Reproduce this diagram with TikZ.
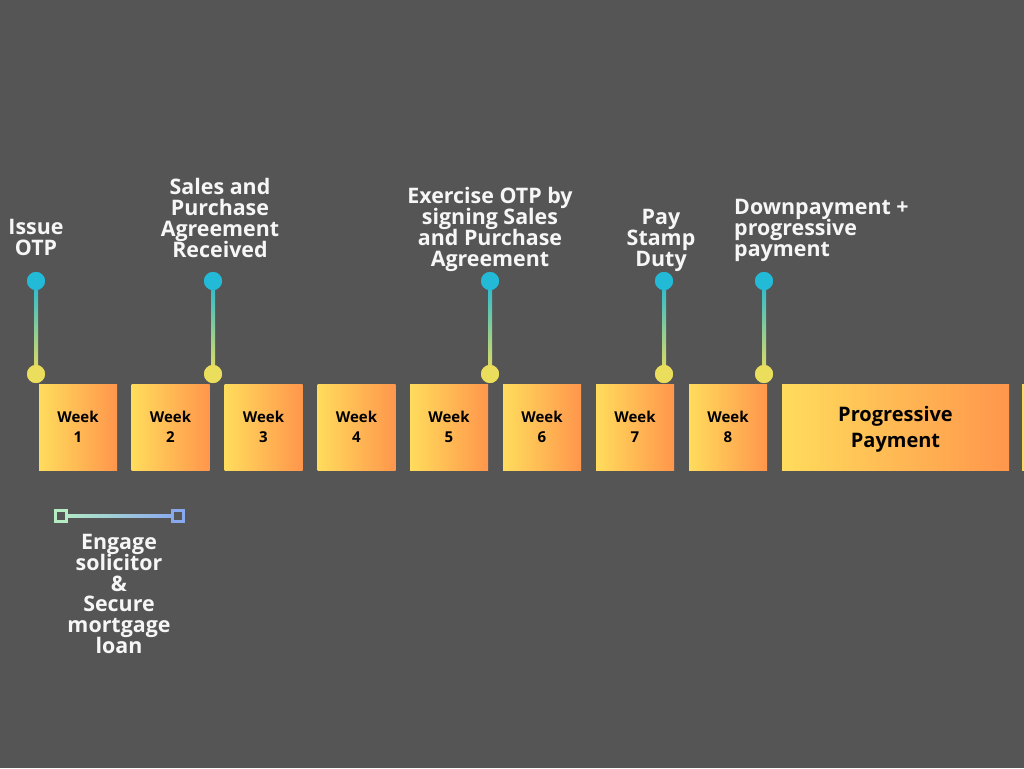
\documentclass[tikz,border=0pt]{standalone}
\usepackage{fontspec}
\setmainfont{Open Sans}
\definecolor{bg}{RGB}{85,85,85}
\definecolor{boxY}{RGB}{255,220,92}
\definecolor{boxO}{RGB}{255,150,76}
\definecolor{dotC}{RGB}{34,186,214}
\definecolor{dotY}{RGB}{234,222,92}
\definecolor{sqG}{RGB}{180,236,196}
\definecolor{sqB}{RGB}{136,168,240}
\definecolor{txt}{RGB}{246,246,246}
\newcommand{\lblfont}{\fontsize{21.4}{20.9}\selectfont\bfseries\lineskiplimit=-30pt\relax}
\begin{document}
\begin{tikzpicture}[x=1pt,y=-1pt,
  week/.style={minimum width=78pt,minimum height=86pt,inner sep=0pt,left color=boxY,right color=boxO,font=\fontsize{15}{20}\selectfont\bfseries,align=center,text=black},
  lbl/.style={text=txt,font=\lblfont,align=center,inner sep=0pt},
  dotT/.style={circle,fill=dotC,minimum size=18pt,inner sep=0pt},
  dotB/.style={circle,fill=dotY,minimum size=18pt,inner sep=0pt},
  stick/.style={top color=dotC,bottom color=dotY},
  sq/.style={rectangle,draw=#1,line width=2.5pt,fill=bg,minimum size=11pt,inner sep=0pt}
]
\fill[bg] (0,0) rectangle (1024,768);
\useasboundingbox (0,0) rectangle (1024,768);
\clip (0,0) rectangle (1024,768);

% week boxes
\node[week] (w1) at (78,427) {Week\\1};
\node[week] (w2) at (170.5,427) {Week\\2};
\node[week] (w3) at (263.5,427) {Week\\3};
\node[week] (w4) at (356.5,427) {Week\\4};
\node[week] (w5) at (449,427) {Week\\5};
\node[week] (w6) at (542,427) {Week\\6};
\node[week] (w7) at (635,427) {Week\\7};
\node[week] (w8) at (728,427) {Week\\8};
\node[week,minimum width=227pt,font=\fontsize{20}{26}\selectfont\bfseries,text depth=0pt] (pp) at (895.5,427) {Progressive\\Payment};
\node[week,anchor=west] (nx) at (1022,427) {};

% lollipops
\foreach \n/\x in {a/36,b/213,c/490,d/664,e/764}{
  \node[dotT] (t\n) at (\x,281) {};
  \node[dotB] (b\n) at (\x,374) {};
  \shade[stick] ([xshift=-2pt]t\n.center) rectangle ([xshift=2pt]b\n.center);
  \node[dotT] at (t\n) {};
  \node[dotB] at (b\n) {};
}

% labels
\node[lbl] (l1) at (36,237.5) {Issue\\OTP};
\node[lbl] (l2) at (220,218) {Sales and\\Purchase\\Agreement\\Received};
\node[lbl] (l3) at (490,229.5) {Exercise OTP by\\signing Sales\\and Purchase\\Agreement};
\node[lbl] (l4) at (661,240.5) {Pay\\Stamp\\Duty};
\node[lbl,align=left,anchor=west] (l5) at (734,230.5) {Downpayment +\\progressive\\payment};

% bottom bar
\coordinate (s1) at (61,516);
\coordinate (s2) at (178,516);
\shade[left color=sqG,right color=sqB] ([yshift=-1.5pt]s1) rectangle ([yshift=1.5pt]s2);
\node[sq=sqG] (q1) at (s1) {};
\node[sq=sqB] (q2) at (s2) {};
\node[lbl] (l6) at (119,594) {Engage\\solicitor\\\&\\Secure\\mortgage\\loan};
\end{tikzpicture}
\end{document}
